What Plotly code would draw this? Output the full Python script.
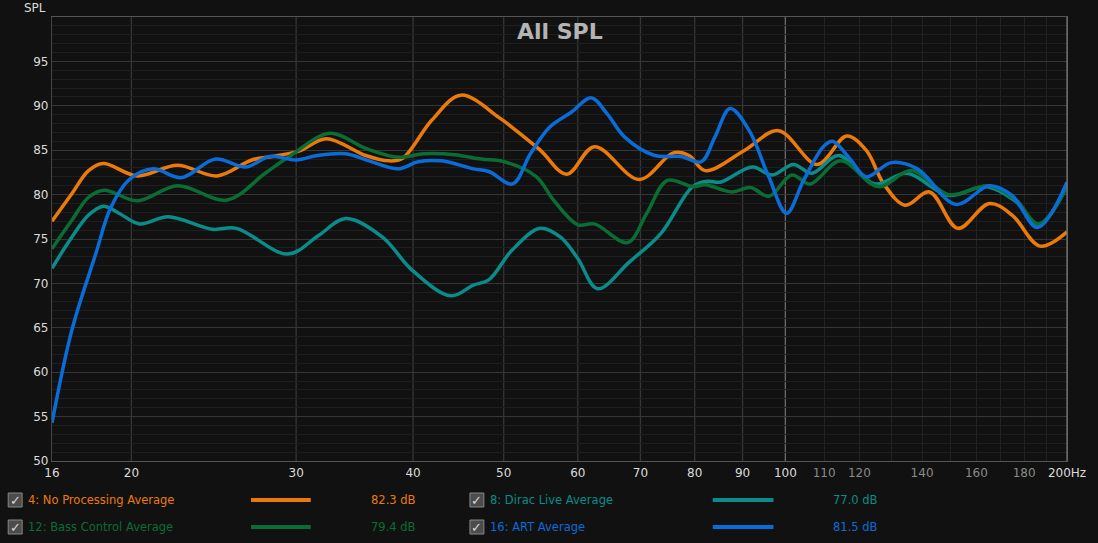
import math
import plotly.graph_objects as go

x_start = 16.45
x_end = 200

noproc_freq = [16.45, 17.27, 18.0, 18.66, 20.3, 22.4, 24.7, 26.9, 28.3, 30.2, 32.3, 35.6, 37.7, 39.0,
               41.9, 45.0, 49.4, 51.0, 54.7, 58.4, 62.5, 69.8, 75.9, 78.9, 82.1, 90.5, 98.3, 108.2,
               116.3, 122, 127.4, 134.3, 142.6, 152.9, 165.2, 174.7, 187.2, 200]
noproc_spl = [77.0, 80.1, 82.7, 83.5, 82.1, 83.3, 82.1, 83.9, 84.3, 84.9, 86.3, 84.4, 83.8, 84.1,
              88.4, 91.2, 88.7, 87.6, 85.0, 82.3, 85.4, 81.7, 84.7, 84.4, 82.7, 85.0, 87.2, 83.4,
              86.6, 85.0, 81.2, 78.8, 80.3, 76.2, 79.0, 77.7, 74.2, 75.8]

dirac_freq = [16.45, 17.27, 18.0, 18.66, 19.4, 20.4, 21.9, 24.4, 25.9, 29.4, 31.7, 33.9, 37.1, 39.9,
              43.9, 46.4, 48.2, 51, 54.7, 57.5, 60, 63, 68.1, 73.6, 79.6, 82.6, 85.2, 92.2, 96.8, 102,
              106.8, 114, 124.6, 134.9, 149.5, 163.8, 176.4, 186.4, 200]
dirac_spl = [71.7, 75.2, 77.7, 78.7, 77.9, 76.7, 77.5, 76.1, 76.2, 73.3, 75.4, 77.3, 75.2, 71.5,
             68.6, 69.8, 70.4, 73.7, 76.2, 75.2, 72.8, 69.4, 72.4, 75.6, 80.9, 81.5, 81.4, 83.1, 82.2,
             83.4, 82.4, 84.4, 81.2, 82.4, 79.9, 80.9, 79.2, 76.6, 80.9]

bass_freq = [16.45, 17.27, 18.0, 18.7, 20.3, 22.4, 25.3, 27.8, 29.6, 32.6, 35.6, 38.6, 41.1, 44.3,
             47.3, 50.1, 54.2, 56.5, 60, 62.5, 67.8, 71.1, 74.8, 79.6, 82.1, 87.6, 91.8, 96, 101.6,
             106.3, 114.5, 125.7, 136.4, 149.5, 165, 176.4, 186.4, 200]
bass_spl = [73.9, 77.1, 79.7, 80.5, 79.3, 81.0, 79.4, 82.4, 84.4, 86.9, 85.2, 84.2, 84.6, 84.5,
            84.0, 83.7, 82.0, 79.4, 76.6, 76.7, 74.6, 77.9, 81.6, 80.9, 81.1, 80.3, 80.8, 79.8, 82.2,
            81.2, 83.8, 80.9, 82.7, 80.0, 81.0, 79.4, 76.7, 80.9]

art_freq = [16.45, 17.27, 18.33, 19.0, 19.9, 21.1, 22.6, 24.6, 26.5,
            28.1, 30.0, 31.6, 33.9, 35.9, 38.6, 40.5, 42.9, 46.4, 48.2, 51.1, 53.4, 56.0, 59.1, 62,
            64.5, 67.3, 72.5, 77.3, 81.3, 84.1, 87.3, 91.5, 96, 100.3, 104.6, 109.8, 112.3, 117.3,
            122, 129.8, 138.4, 152.2, 165.2, 174.7, 186, 200]
art_spl = [54.3, 64.7, 73.4, 78.5, 81.7, 82.9, 81.9, 84.0, 83.1,
           84.3, 83.9, 84.4, 84.6, 83.8, 82.9, 83.7, 83.8, 82.9, 82.6, 81.2, 84.6, 87.6, 89.3, 90.9,
           89.1, 86.5, 84.4, 84.3, 83.7, 86.5, 89.7, 87.2, 82.0, 77.9, 81.6, 85.4, 86.0, 84.0,
           82.0, 83.6, 82.9, 78.9, 81.0, 79.9, 76.3, 81.4]

names = ["4: No Processing Average", "8: Dirac Live Average",
         "12: Bass Control Average", "16: ART Average"]
averages = ["82.3 dB", "77.0 dB", "79.4 dB", "81.5 dB"]
colors = ["#EC7A0A", "#0A8C8A", "#0A6E34", "#0A6CD8"]

x_major = [20, 30, 40, 50, 60, 70, 80, 90]
x_minor = [110, 120, 130, 140, 150, 160, 170, 180, 190]
x_labels_bright = {x_start: "16", 20: "20", 30: "30", 40: "40", 50: "50", 60: "60", 70: "70",
                   80: "80", 90: "90", 100: "100", 200: "200Hz"}
x_labels_dim = {110: "110", 120: "120", 140: "140", 160: "160", 180: "180"}
y_ticks = [50, 55, 60, 65, 70, 75, 80, 85, 90, 95]

W, H = 1098, 543
ML, MR, MT, MB = 52, 26, 17, 82
PW, PH = W - ML - MR, H - MT - MB


def fx(p):
    return (p - ML) / PW


def fy(p):
    return (H - MB - p) / PH


series = [(noproc_freq, noproc_spl), (dirac_freq, dirac_spl),
          (bass_freq, bass_spl), (art_freq, art_spl)]

fig = go.Figure()
for (f, s), name, col in zip(series, names, colors):
    fig.add_trace(go.Scatter(x=f, y=s, mode="lines", name=name,
                             line=dict(color=col, width=3.5, shape="spline", smoothing=1.0)))

# tick labels, bright and dim
tickvals = sorted(list(x_labels_bright) + list(x_labels_dim))
ticktext = []
for v in tickvals:
    if v in x_labels_bright:
        ticktext.append('<span style="color:#dcdcdc">%s</span>' % x_labels_bright[v])
    else:
        ticktext.append('<span style="color:#8a8a8a">%s</span>' % x_labels_dim[v])

shapes = []
for v in x_major:
    shapes.append(dict(type="line", xref="x", yref="paper", x0=v, x1=v, y0=0, y1=1,
                       line=dict(color="#363636", width=1.3), layer="below"))
shapes.append(dict(type="line", xref="x", yref="paper", x0=100, x1=100, y0=0, y1=1,
                   line=dict(color="#6a6a6a", width=1.3), layer="below"))
shapes.append(dict(type="line", xref="paper", yref="paper", x0=1, x1=1, y0=0, y1=1,
                   line=dict(color="#777777", width=1.3)))

annotations = [
    dict(text="<b>All SPL</b>", x=0.5, y=fy(32), xref="paper", yref="paper",
         xanchor="center", yanchor="middle",
         showarrow=False, font=dict(size=22, color="#b4b4b4")),
    dict(text="SPL", x=fx(48), y=fy(8), xref="paper", yref="paper",
         xanchor="right", yanchor="middle",
         showarrow=False, font=dict(size=12, color="#dcdcdc")),
]

# custom legend: checkbox, name, line sample, average
legend_cols = [(8, 26, 252, 312, 420), (472, 490, 716, 777, 884)]
legend_rows = [500, 527]
slots = [(0, 0), (0, 1), (1, 0), (1, 1)]
for i, (name, avg, col) in enumerate(zip(names, averages, colors)):
    r, c = slots[i]
    cb, tx, l0, l1, vx = legend_cols[c]
    yc = legend_rows[r]
    shapes.append(dict(type="rect", xref="paper", yref="paper",
                       x0=fx(cb), x1=fx(cb + 14), y0=fy(yc - 7), y1=fy(yc + 7),
                       fillcolor="#4c4c4c", line=dict(color="#888888", width=1)))
    annotations.append(dict(text="✓", x=fx(cb + 7), y=fy(yc), xref="paper", yref="paper",
                            xanchor="center", yanchor="middle",
                            showarrow=False, font=dict(size=13, color="#d8d8d8")))
    annotations.append(dict(text=name, x=fx(tx), y=fy(yc), xref="paper", yref="paper",
                            xanchor="left", yanchor="middle", showarrow=False,
                            font=dict(size=11.5, color=col)))
    shapes.append(dict(type="line", xref="paper", yref="paper", x0=fx(l0), x1=fx(l1),
                       y0=fy(yc), y1=fy(yc), line=dict(color=col, width=4)))
    annotations.append(dict(text=avg, x=fx(vx), y=fy(yc), xref="paper", yref="paper",
                            xanchor="right", yanchor="middle", showarrow=False,
                            font=dict(size=11.5, color=col)))

fig.update_layout(
    width=W, height=H,
    margin=dict(l=ML, r=MR, t=MT, b=MB),
    paper_bgcolor="#111111", plot_bgcolor="#111111",
    font=dict(family="DejaVu Sans", size=12, color="#dcdcdc"),
    showlegend=False,
    shapes=shapes, annotations=annotations,
    xaxis=dict(type="log", range=[math.log10(x_start), math.log10(x_end)],
               tickvals=tickvals, ticktext=ticktext, showgrid=False, zeroline=False,
               showline=True, linecolor="#555555", linewidth=1.3, mirror=True,
               tickfont=dict(size=12),
               minor=dict(tickvals=x_minor, showgrid=True, gridcolor="#222222", gridwidth=1.3)),
    yaxis=dict(range=[50, 100], tickvals=y_ticks, ticktext=[str(v) for v in y_ticks],
               gridcolor="#363636", gridwidth=1.3, zeroline=False,
               showline=True, linecolor="#444444", linewidth=1.3, mirror=True,
               tickfont=dict(size=12),
               minor=dict(dtick=1, showgrid=True, gridcolor="#1e1e1e", gridwidth=1)),
)

fig.write_html("out.html", config={"displayModeBar": False},
               post_script="document.body.style.margin='0';document.body.style.background='#111111';")
